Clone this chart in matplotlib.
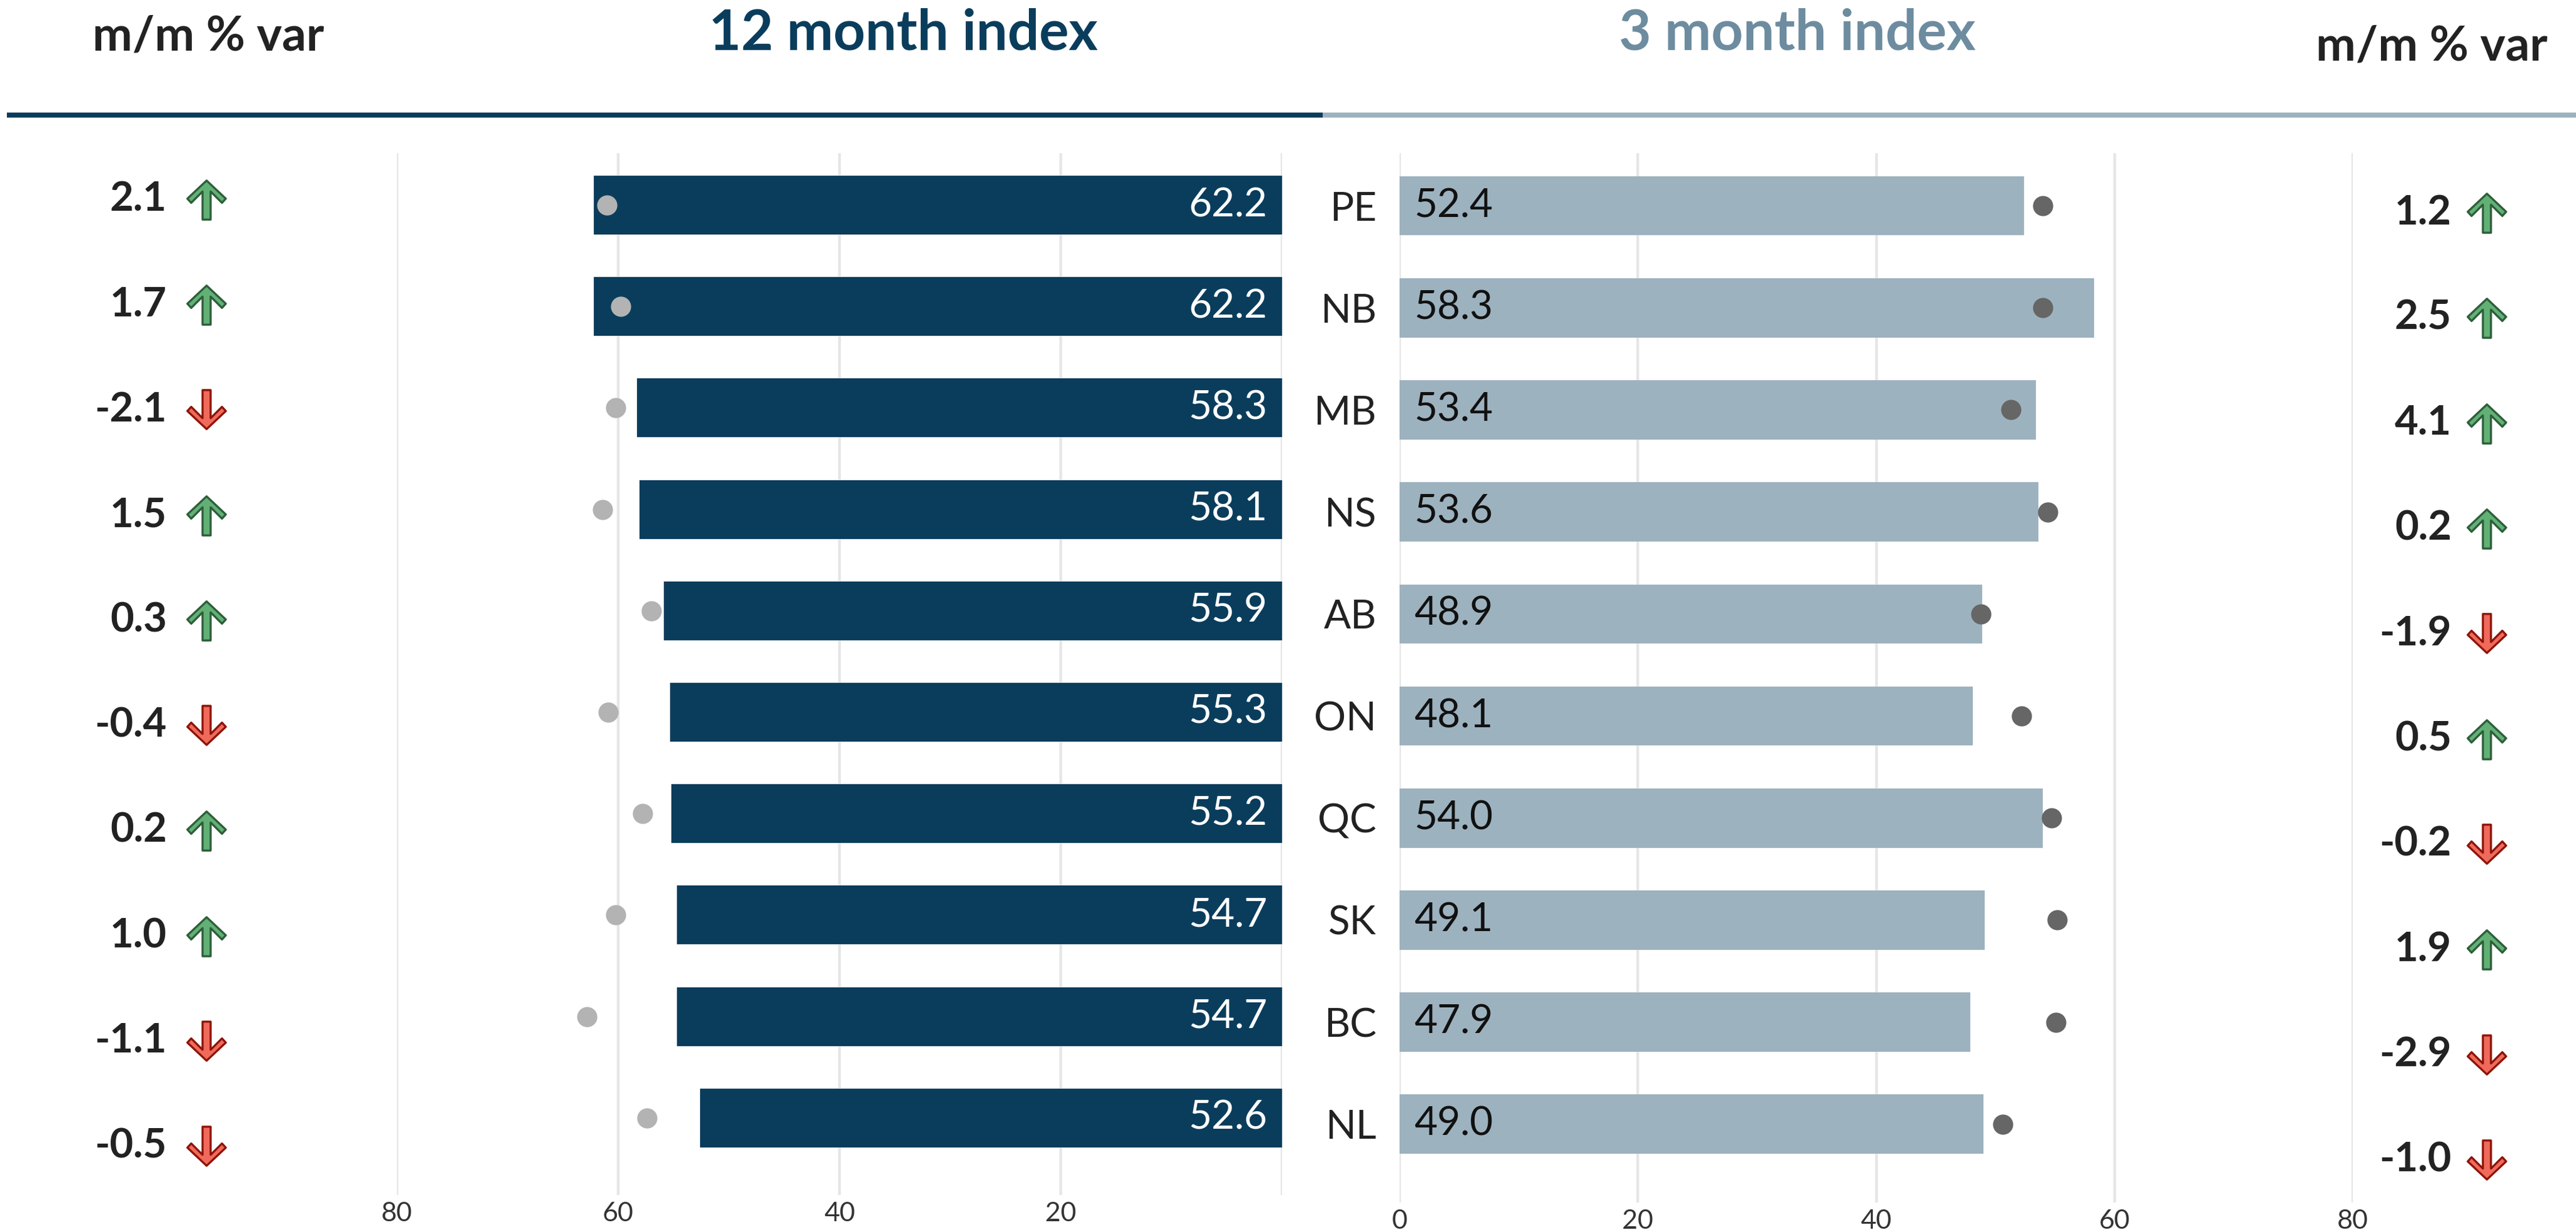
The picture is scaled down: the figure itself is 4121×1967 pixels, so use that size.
import matplotlib
matplotlib.use("Agg")
import matplotlib.pyplot as plt
from matplotlib.path import Path
from matplotlib.lines import Line2D
import matplotlib.transforms as mtransforms

plt.rcParams['font.family'] = ['Lato', 'DejaVu Sans']

# ---------------- data ----------------
provinces = ["PE", "NB", "MB", "NS", "AB", "ON", "QC", "SK", "BC", "NL"]
idx12 = [62.2, 62.2, 58.3, 58.1, 55.9, 55.3, 55.2, 54.7, 54.7, 52.6]
idx12_prev = [61.0, 59.8, 60.2, 61.4, 57.0, 60.9, 57.8, 60.2, 62.8, 57.4]
var12 = [2.1, 1.7, -2.1, 1.5, 0.3, -0.4, 0.2, 1.0, -1.1, -0.5]
idx3 = [52.4, 58.3, 53.4, 53.6, 48.9, 48.1, 54.0, 49.1, 47.9, 49.0]
idx3_prev = [54.0, 54.0, 51.3, 54.4, 48.8, 52.2, 54.7, 55.2, 55.1, 50.6]
var3 = [1.2, 2.5, 4.1, 0.2, -1.9, 0.5, -0.2, 1.9, -2.9, -1.0]
left_ticks = [80, 60, 40, 20, 0]
left_ticklabels = ["80", "60", "40", "20", ""]
right_ticks = [0, 20, 40, 60, 80]
right_ticklabels = ["0", "20", "40", "60", "80"]
titles = ["m/m % var", "12 month index", "3 month index", "m/m % var"]

# ---------------- style ----------------
DARK = "#0a3d5c"
LIGHT = "#9db2bf"
TITLE_LIGHT = "#6d8ca0"
GRID = "#e6e6e6"
TXT = "#222222"
UP_FILL, UP_EDGE = "#62b075", "#2e5e3b"
DN_FILL, DN_EDGE = "#f06a5c", "#8e1409"

W, H = 4121, 1967
DPI = 200
fig = plt.figure(figsize=(W / DPI, H / DPI), dpi=DPI)


def rect(x0, y0, x1, y1):
    return [x0 / W, 1 - y1 / H, (x1 - x0) / W, (y1 - y0) / H]


n = len(provinces)
ypos = list(range(n))
BAR_H = 0.58

# ---------- left panel (12 month) ----------
axL = fig.add_axes(rect(635, 245, 2051, 1911))
axL.barh(ypos, idx12, height=BAR_H, color=DARK, zorder=2)
axL.scatter(idx12_prev, ypos, s=135, color="#b3b3b3", zorder=3, linewidths=0)
for y, v in zip(ypos, idx12):
    axL.annotate(f"{v:.1f}", xy=(0, y), xytext=(-8.3, 0), textcoords="offset points",
                 ha="right", va="center", color="white", fontsize=23)
axL.set_xlim(80, 0)
axL.set_ylim(9.76, -0.512)
axL.set_xticks(left_ticks)
axL.set_xticklabels(left_ticklabels)
axL.set_yticks([])
axL.grid(axis="x", color=GRID, linewidth=1.6, zorder=0)
axL.set_axisbelow(True)
axL.tick_params(axis="x", length=0, pad=4, labelsize=15.5, labelcolor="#333333")
for s in axL.spines.values():
    s.set_visible(False)

# ---------- right panel (3 month) ----------
axR = fig.add_axes(rect(2239, 245, 3764, 1923))
axR.barh(ypos, idx3, height=BAR_H, color=LIGHT, zorder=2)
axR.scatter(idx3_prev, ypos, s=135, color="#666666", zorder=3, linewidths=0)
for y, v in zip(ypos, idx3):
    axR.annotate(f"{v:.1f}", xy=(0, y), xytext=(8.3, 0), textcoords="offset points",
                 ha="left", va="center", color="#111111", fontsize=23)
axR.set_xlim(0, 80)
axR.set_ylim(9.767, -0.515)
axR.set_xticks(right_ticks)
axR.set_xticklabels(right_ticklabels)
axR.set_yticks(ypos)
axR.set_yticklabels(provinces)
axR.grid(axis="x", color=GRID, linewidth=1.6, zorder=0)
axR.set_axisbelow(True)
axR.tick_params(axis="x", length=0, pad=4, labelsize=15.5, labelcolor="#333333")
axR.tick_params(axis="y", length=0, pad=13.3, labelsize=23, labelcolor=TXT)
for s in axR.spines.values():
    s.set_visible(False)

# ---------- arrow marker ----------
up_verts = [(0, 1.0), (-1, 0.06), (-0.8, -0.16), (-0.21, 0.43), (-0.21, -1.03),
            (0.21, -1.03), (0.21, 0.43), (0.8, -0.16), (1, 0.06), (0, 1.0)]
up_codes = [Path.MOVETO] + [Path.LINETO] * (len(up_verts) - 2) + [Path.CLOSEPOLY]
UP = Path(up_verts, up_codes)
DOWN = Path([(x, -y) for x, y in up_verts], up_codes)


def var_column(rect_px, values, text_x, arrow_x):
    ax = fig.add_axes(rect(*rect_px))
    ax.set_xlim(0, 1)
    ax.set_ylim(len(values) - 0.5, -0.5)
    ax.axis("off")
    tr = mtransforms.blended_transform_factory(ax.transAxes, ax.transData)
    ups = [i for i, v in enumerate(values) if v >= 0]
    dns = [i for i, v in enumerate(values) if v < 0]
    for i, v in enumerate(values):
        ax.text(text_x, i, f"{v:.1f}", transform=tr, ha="right", va="center",
                fontsize=23.5, fontweight="bold", color=TXT)
    ax.scatter([arrow_x] * len(ups), ups, marker=UP, s=520, facecolor=UP_FILL,
               edgecolor=UP_EDGE, linewidths=1.2, transform=tr)
    ax.scatter([arrow_x] * len(dns), dns, marker=DOWN, s=520, facecolor=DN_FILL,
               edgecolor=DN_EDGE, linewidths=1.2, transform=tr)
    return ax


# left column: rows at 319 + 168.4 i
var_column((0, 234.8, 635, 1917.2), var12, 267 / 635, 330 / 635)
# right column: rows at 340 + 168.3 i
var_column((3764, 255.9, 4121, 1939.1), var3, (3922 - 3764) / 357, (3978 - 3764) / 357)

# ---------- headers ----------
fig.text(333 / W, 1 - 80 / H, titles[0], ha="center", va="baseline",
         fontsize=27.5, fontweight="bold", color=TXT)
fig.text(1445 / W, 1 - 80 / H, titles[1], ha="center", va="baseline",
         fontsize=32, fontweight="bold", color=DARK)
fig.text(2875 / W, 1 - 80 / H, titles[2], ha="center", va="baseline",
         fontsize=32, fontweight="bold", color=TITLE_LIGHT)
fig.text(3890 / W, 1 - 97 / H, titles[3], ha="center", va="baseline",
         fontsize=27.5, fontweight="bold", color=TXT)

yl = 1 - 184.5 / H
fig.add_artist(Line2D([11 / W, 2116 / W], [yl, yl], transform=fig.transFigure,
                      color=DARK, linewidth=2.9, solid_capstyle="butt"))
fig.add_artist(Line2D([2116 / W, 1.0], [yl, yl], transform=fig.transFigure,
                      color=LIGHT, linewidth=2.9, solid_capstyle="butt"))

fig.savefig("out.png", dpi=DPI, facecolor="white")
